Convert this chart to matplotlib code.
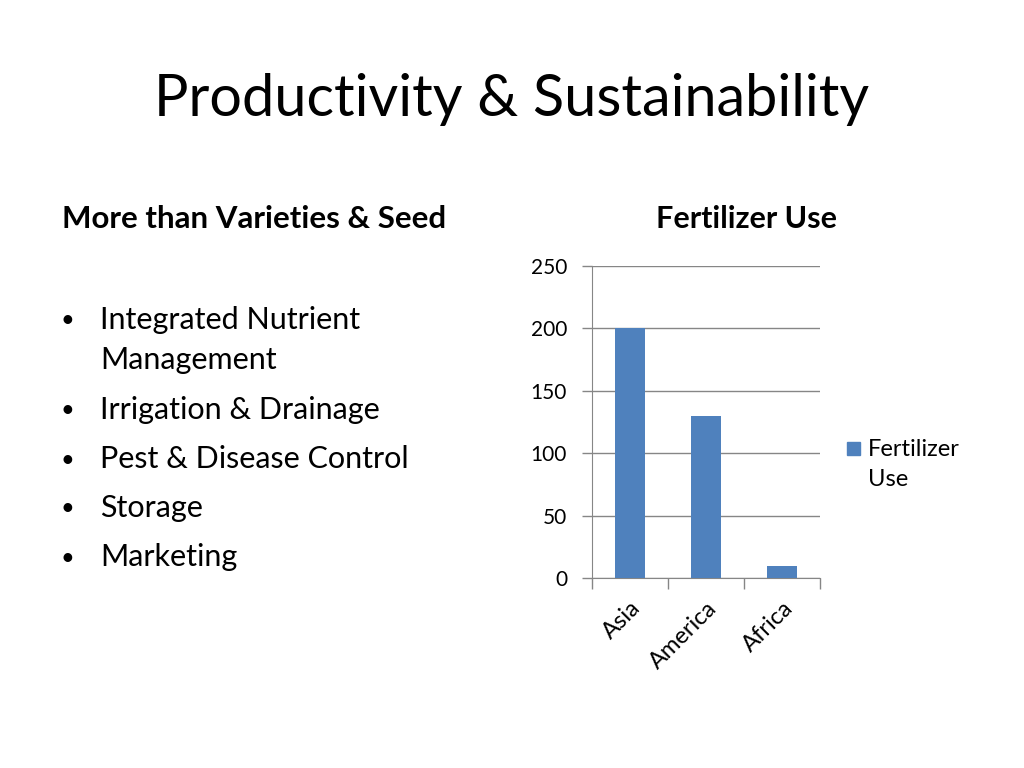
import matplotlib
matplotlib.use("Agg")
import matplotlib.pyplot as plt
from matplotlib.patches import Rectangle

plt.rcParams['font.family'] = ['Lato', 'DejaVu Sans']

categories = ["Asia", "America", "Africa"]
values = [200, 130, 10]
yticks = [0, 50, 100, 150, 200, 250]
series_name = "Fertilizer Use"
bullet_lines = [["Integrated Nutrient", "Management"], ["Irrigation & Drainage"],
                ["Pest & Disease Control"], ["Storage"], ["Marketing"]]

bar_color = "#4F81BD"
grid_color = "#868686"

fig = plt.figure(figsize=(10.24, 7.68), dpi=100)
W, H = 1024, 768

def fx(x): return x / W
def fy(y): return 1 - y / H

fig.text(fx(512), fy(100), "Productivity & Sustainability", ha="center", va="center",
         fontsize=41.5, color="#000000")
fig.text(fx(62), fy(219), "More than Varieties & Seed", ha="left", va="center",
         fontsize=22.5, fontweight="bold")
fig.text(fx(746), fy(219), "Fertilizer Use", ha="center", va="center",
         fontsize=22, fontweight="bold")

ys = [320, 410, 459, 508, 557]
for lines, y in zip(bullet_lines, ys):
    fig.text(fx(67), fy(y + 1), "\u2022", ha="center", va="center", fontsize=17)
    for i, ln in enumerate(lines):
        fig.text(fx(100), fy(y + 40 * i), ln, ha="left", va="center", fontsize=22)

ax = fig.add_axes([fx(592), fy(578), fx(820) - fx(592), fy(266) - fy(578)])
x = list(range(len(categories)))
ax.bar(x, values, width=0.4, color=bar_color, zorder=3)
ax.set_xlim(-0.5, len(categories) - 0.5)
ax.set_ylim(0, 250)
ax.set_yticks(yticks)
ax.set_yticklabels([str(v) for v in yticks], fontsize=15)
ax.yaxis.grid(True, color=grid_color, linewidth=1, zorder=0)
ax.tick_params(axis="y", length=7, color=grid_color, pad=11, width=1)
ax.set_xticks(x)
ax.set_xticklabels(categories, rotation=45, ha="right", va="top", fontsize=17,
                   rotation_mode="anchor")
ax.tick_params(axis="x", length=0, pad=14)
ax.set_xticks([-0.5, 0.5, 1.5, 2.5], minor=True)
ax.tick_params(axis="x", which="minor", length=8, color=grid_color, width=1)
for s in ["top", "right"]:
    ax.spines[s].set_visible(False)
ax.spines["left"].set_color(grid_color)
ax.spines["bottom"].set_color(grid_color)

fig.patches.append(Rectangle((fx(847), fy(455)), fx(13), fy(442) - fy(455),
                             transform=fig.transFigure, color=bar_color))
fig.text(fx(868), fy(449), "Fertilizer", ha="left", va="center", fontsize=17)
fig.text(fx(868), fy(480), "Use", ha="left", va="center", fontsize=17)

fig.savefig("out.png", dpi=100)
